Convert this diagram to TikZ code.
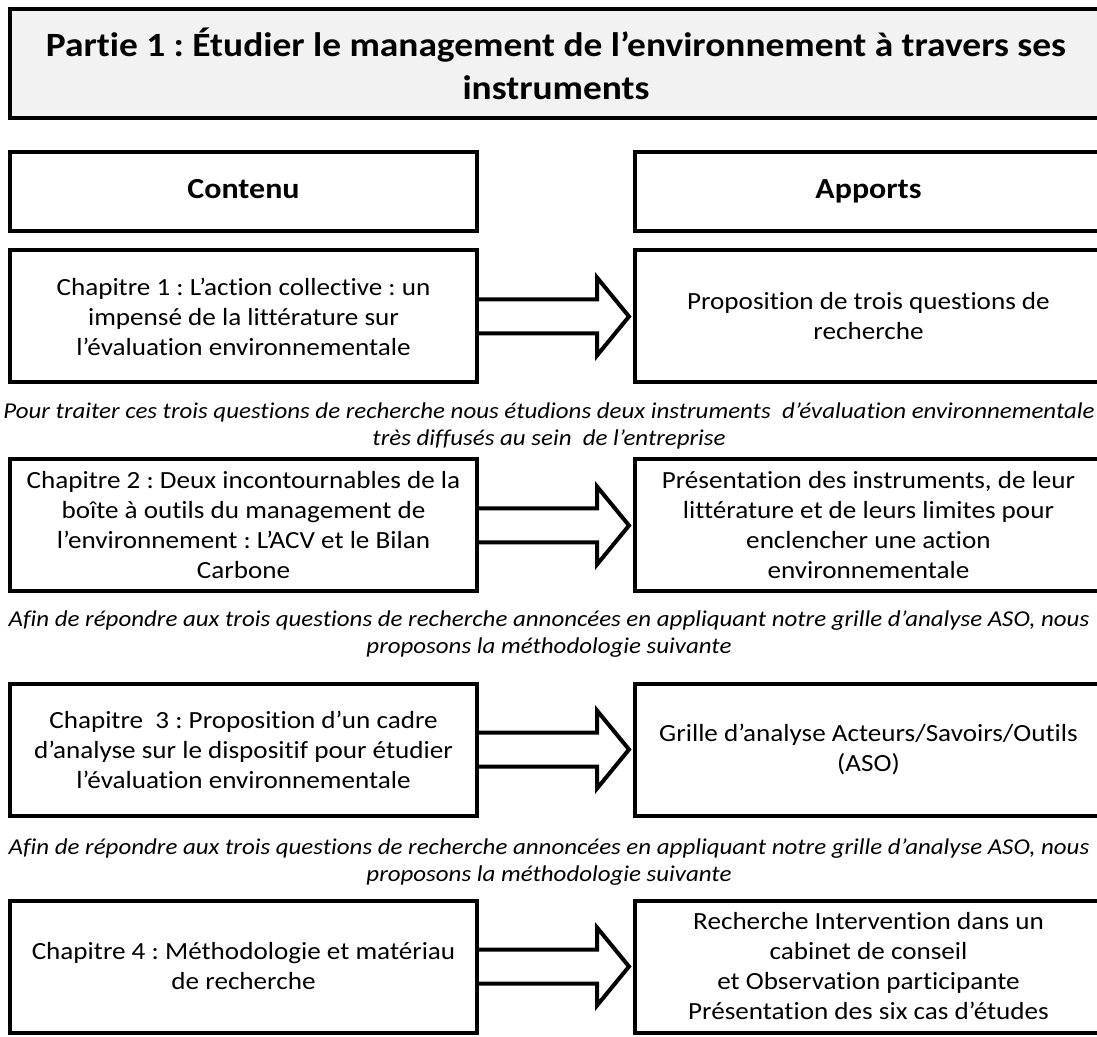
\documentclass[tikz,border=0pt]{standalone}
\usepackage{fontspec}
\setmainfont{Carlito}[FakeStretch=1.1,Ligatures={NoCommon}]
\usetikzlibrary{calc}
\frenchspacing

\begin{document}
\begin{tikzpicture}
	[x=0.75pt,y=-0.75pt,
	 chapbox/.style={draw,line width=3pt,inner sep=0pt,align=center,minimum width=350.25pt,minimum height=99pt,font=\fontsize{18.5}{22.5}\selectfont},
	 headbox/.style={chapbox,minimum height=59.25pt,text height=15pt,text depth=5pt,font=\bfseries\fontsize{21.8}{24}\selectfont},
	 note/.style={align=center,inner sep=0pt,font=\itshape\fontsize{17}{20}\selectfont},
	 bigarrow/.style={line width=3pt,fill=white,line join=miter}]
	\useasboundingbox (0,0) rectangle (1097,1037);

	\node[chapbox,fill=black!5,minimum width=819pt,minimum height=81.75pt,font=\bfseries\fontsize{25.5}{32}\selectfont] (title) at (556,64) {Partie 1 : Étudier le management de l’environnement à travers ses\\instruments};

	\node[headbox] (cont) at (243.5,191.5) {Contenu};
	\node[headbox] (appo) at (868.5,191.5) {Apports};

	\node[chapbox] (c1) at (243.5,316.5) {Chapitre 1 : L’action collective : un\\impensé de la littérature sur\\l’évaluation environnementale};
	\node[chapbox] (a1) at (868.5,316.5) {Proposition de trois questions de\\recherche};

	\node[note] (t1) at (549,426) {Pour traiter ces trois questions de recherche nous étudions deux instruments\ \ d’évaluation environnementale\\très diffusés au sein\ \ de l’entreprise};

	\node[chapbox] (c2) at (243.5,525.5) {Chapitre 2 : Deux incontournables de la\\boîte à outils du management de\\l’environnement : L’ACV et le Bilan\\Carbone};
	\node[chapbox] (a2) at (868.5,525.5) {Présentation des instruments, de leur\\littérature et de leurs limites pour\\enclencher une action\\environnementale};

	\node[note] (t2) at (549,634) {Afin de répondre aux trois questions de recherche annoncées en appliquant notre grille d’analyse ASO, nous\\proposons la méthodologie suivante};

	\node[chapbox] (c3) at (243.5,749.5) {Chapitre\ \ 3 : Proposition d’un cadre\\d’analyse sur le dispositif pour étudier\\l’évaluation environnementale};
	\node[chapbox] (a3) at (868.5,749.5) {Grille d’analyse Acteurs/Savoirs/Outils\\(ASO)};

	\node[note] (t3) at (549,862) {Afin de répondre aux trois questions de recherche annoncées en appliquant notre grille d’analyse ASO, nous\\proposons la méthodologie suivante};

	\node[chapbox] (c4) at (243.5,966.5) {Chapitre 4 : Méthodologie et matériau\\de recherche};
	\node[chapbox] (a4) at (868.5,966.5) {Recherche Intervention dans un\\cabinet de conseil\\et Observation participante\\Présentation des six cas d’études};

	\foreach \i in {1,...,4}
	\draw[bigarrow] ($(c\i.east)+(0,-17)$) -- ++(118,0) -- ++(0,-22) -- ($(a\i.west)+(-4,0)$)
		-- ($(c\i.east)+(118,39)$) -- ++(0,-22) -- ($(c\i.east)+(0,17)$);

\end{tikzpicture}
\end{document}
